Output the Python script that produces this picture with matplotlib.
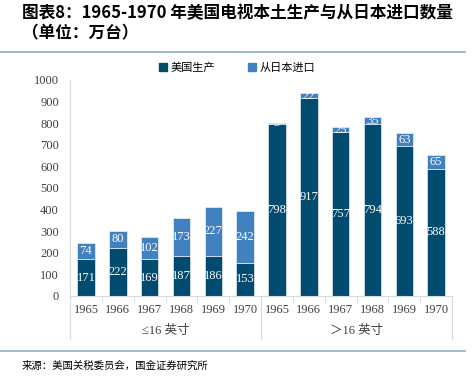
import matplotlib.pyplot as plt
from matplotlib.lines import Line2D
from matplotlib.patches import Patch
import numpy as np

plt.rcParams['font.family'] = ['Liberation Serif', 'Noto Sans CJK SC', 'DejaVu Sans']

# data
years = ['1965', '1966', '1967', '1968', '1969', '1970']
groups = ['≤16 英寸', '＞16 英寸']
us_prod = [171, 222, 169, 187, 186, 153, 798, 917, 757, 794, 693, 588]
jp_import = [74, 80, 102, 173, 227, 242, 3, 22, 25, 35, 63, 65]

dark = '#004B6E'
light = '#4281C1'
grey = '#D9D9D9'

fig = plt.figure(figsize=(4.74, 3.77), dpi=100)
ax = fig.add_axes([0.1477, 0.2149, 0.8059, 0.5729])

x = np.arange(len(us_prod))
w = 0.55
b1 = ax.bar(x, us_prod, w, color=dark, edgecolor='white', linewidth=0.4)
b2 = ax.bar(x, jp_import, w, bottom=us_prod, color=light, edgecolor='white', linewidth=0.4)

for i in range(len(x)):
    ax.text(x[i], us_prod[i] / 2, str(us_prod[i]), ha='center', va='center',
            color='white', fontsize=9)
    ax.text(x[i], us_prod[i] + jp_import[i] / 2, str(jp_import[i]), ha='center',
            va='center', color='white', fontsize=9)

ax.set_xlim(-0.5, len(x) - 0.5)
ax.set_ylim(0, 1000)
ax.set_yticks(range(0, 1001, 100))
ax.tick_params(axis='y', length=0, labelsize=9, colors='#404040', pad=8)
ax.set_xticks(x)
ax.set_xticklabels(years * 2, fontsize=9, color='#404040')
ax.tick_params(axis='x', length=0, pad=6)
ax.set_xticks(np.arange(-0.5, len(x), 1), minor=True)
ax.tick_params(axis='x', which='minor', length=5, color=grey)

for s in ['top', 'right']:
    ax.spines[s].set_visible(False)
ax.spines['left'].set_color(grey)
ax.spines['bottom'].set_color(grey)

# group separators and labels
trans = ax.get_xaxis_transform()
for sx in [-0.5, 5.5, 11.5]:
    ax.add_line(Line2D([sx, sx], [0, -0.2], transform=trans, color=grey,
                       linewidth=0.8, clip_on=False))
for gi, g in enumerate(groups):
    ax.text(2.5 + gi * 6, -0.16, g, transform=trans, ha='center', va='center',
            fontsize=9, color='#404040')

handles = [Patch(color=dark), Patch(color=light)]
fig.legend(handles, ['美国生产', '从日本进口'], loc='center', bbox_to_anchor=(0.5, 0.82),
           ncol=2, frameon=False, fontsize=8, handlelength=0.7, handleheight=0.7,
           handletextpad=0.3, columnspacing=3)

fig.text(0.046, 0.965, '图表8：1965-1970 年美国电视本土生产与从日本进口数量',
         fontsize=12, fontweight='bold', style='italic', va='center',
         family=['Noto Sans CJK SC', 'DejaVu Sans'])
fig.text(0.046, 0.912, '（单位：万台）', fontsize=12, fontweight='bold', style='italic',
         va='center', family=['Noto Sans CJK SC', 'DejaVu Sans'])

fig.add_artist(Line2D([0, 0.98], [0.862, 0.862], color='#8FAFC4', linewidth=1.2))
fig.add_artist(Line2D([0, 0.98], [0.069, 0.069], color='#8FAFC4', linewidth=1.2))
fig.text(0.046, 0.029, '来源：美国关税委员会，国金证券研究所', fontsize=7.5, va='center',
         family=['Noto Sans CJK SC', 'DejaVu Sans'])

fig.savefig('out.png', dpi=100)
